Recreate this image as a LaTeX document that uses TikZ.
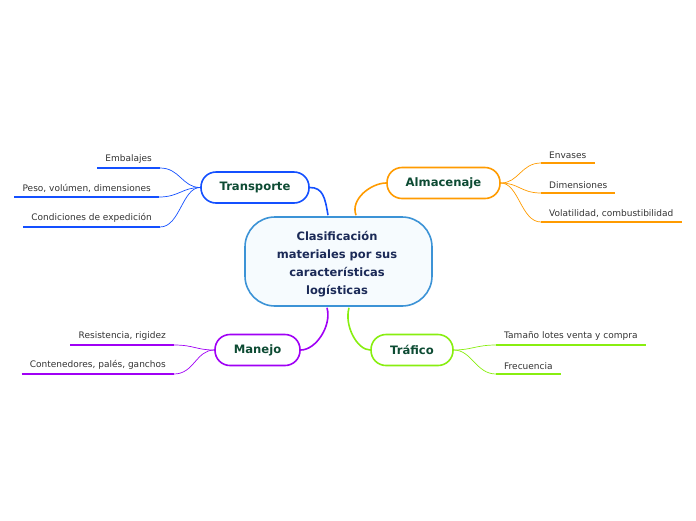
\documentclass[tikz,border=0pt]{standalone}
\usepackage{fontspec}
\setmainfont{DejaVu Sans}
\definecolor{cBlue}{HTML}{1450FF}
\definecolor{cOrange}{HTML}{FF9B00}
\definecolor{cPurple}{HTML}{A000F5}
\definecolor{cGreen}{HTML}{88EE10}
\definecolor{cCenter}{HTML}{3C93D6}
\definecolor{cCenterFill}{HTML}{F6FBFE}
\definecolor{cBranchText}{HTML}{0D4B33}
\definecolor{cCenterText}{HTML}{1B2A57}
\definecolor{cLeafText}{HTML}{333333}
\tikzset{
  centerbox/.style={draw=cCenter, line width=1.6pt, fill=cCenterFill, rounded corners=30pt,
    minimum width=187pt, minimum height=89pt, inner sep=0pt},
  centertext/.style={text width=160pt, align=center,
    font=\fontsize{11.5}{18}\selectfont\bfseries, text=cCenterText, inner sep=0pt},
  branchbox/.style={draw=#1, line width=1.6pt, fill=white, rounded corners=15pt,
    minimum height=31pt, inner sep=0pt, font=\fontsize{11.6}{14}\selectfont\bfseries, text=cBranchText},
  leafL/.style={anchor=south east, inner xsep=8pt, inner ysep=4pt, font=\fontsize{9}{10}\selectfont, text=cLeafText},
  leafR/.style={anchor=south west, inner xsep=8pt, inner ysep=4pt, font=\fontsize{9}{10}\selectfont, text=cLeafText},
  uline/.style={draw=#1, line width=2.6pt},
  thinlink/.style={draw=#1, line width=0.7pt},
  mainlink/.style={draw=#1, line width=1.6pt},
}
\begin{document}
\begin{tikzpicture}[x=1pt,y=-1pt]
\useasboundingbox (0,0) rectangle (696,520);
% central
\node[centerbox] (c) at (338.5,261.5) {};
\node[centertext] (ct) at (337,264) {Clasificación\\materiales por sus\\características\\logísticas};
% branches
\node[branchbox=cBlue, minimum width=108pt] (tr) at (255,187.5) {Transporte};
\node[branchbox=cOrange, minimum width=113pt] (al) at (443.5,183) {Almacenaje};
\node[branchbox=cPurple, minimum width=85pt] (ma) at (257.5,350) {Manejo};
\node[branchbox=cGreen, minimum width=82pt] (tf) at (412,350) {Tráfico};
% main links
\draw[mainlink=cBlue] (tr.east) .. controls +(13,0) and +(-3,-18) .. ([xshift=-10.5pt,yshift=1pt]c.north);
\draw[mainlink=cOrange] (al.west) .. controls +(-15,0) and +(-6,-16) .. ([xshift=17.5pt,yshift=1pt]c.north);
\draw[mainlink=cPurple] (ma.east) .. controls +(15,0) and +(5,18) .. ([xshift=-11.5pt,yshift=-1pt]c.south);
\draw[mainlink=cGreen] (tf.west) .. controls +(-13,0) and +(-5,18) .. ([xshift=10.5pt,yshift=-1pt]c.south);
% Transporte leaves
\node[leafL] (t1) at (160,168) {Embalajes};
\node[leafL] (t2) at (159,197) {Peso, volúmen, dimensiones};
\node[leafL] (t3) at (160,227) {Condiciones de expedición};
\foreach \n in {t1,t2,t3}{
  \draw[uline=cBlue] (\n.south west) -- (\n.south east);
  \draw[thinlink=cBlue] (tr.west) .. controls +(-18,0) and +(20,0) .. (\n.south east);
}
% Almacenaje leaves
\node[leafR] (a1) at (541,163) {Envases};
\node[leafR] (a2) at (541,193) {Dimensiones};
\node[leafR] (a3) at (541,222) {Volatilidad, combustibilidad};
\foreach \n in {a1,a2,a3}{
  \draw[uline=cOrange] (\n.south west) -- (\n.south east);
  \draw[thinlink=cOrange] (al.east) .. controls +(18,0) and +(-20,0) .. (\n.south west);
}
% Manejo leaves
\node[leafL] (m1) at (174,345) {Resistencia, rigidez};
\node[leafL] (m2) at (174,374) {Contenedores, palés, ganchos};
\foreach \n in {m1,m2}{
  \draw[uline=cPurple] (\n.south west) -- (\n.south east);
  \draw[thinlink=cPurple] (ma.west) .. controls +(-18,0) and +(20,0) .. (\n.south east);
}
% Trafico leaves
\node[leafR] (f1) at (496,345) {Tamaño lotes venta y compra};
\node[leafR] (f2) at (496,374) {Frecuencia};
\foreach \n in {f1,f2}{
  \draw[uline=cGreen] (\n.south west) -- (\n.south east);
  \draw[thinlink=cGreen] (tf.east) .. controls +(18,0) and +(-20,0) .. (\n.south west);
}
\end{tikzpicture}
\end{document}
